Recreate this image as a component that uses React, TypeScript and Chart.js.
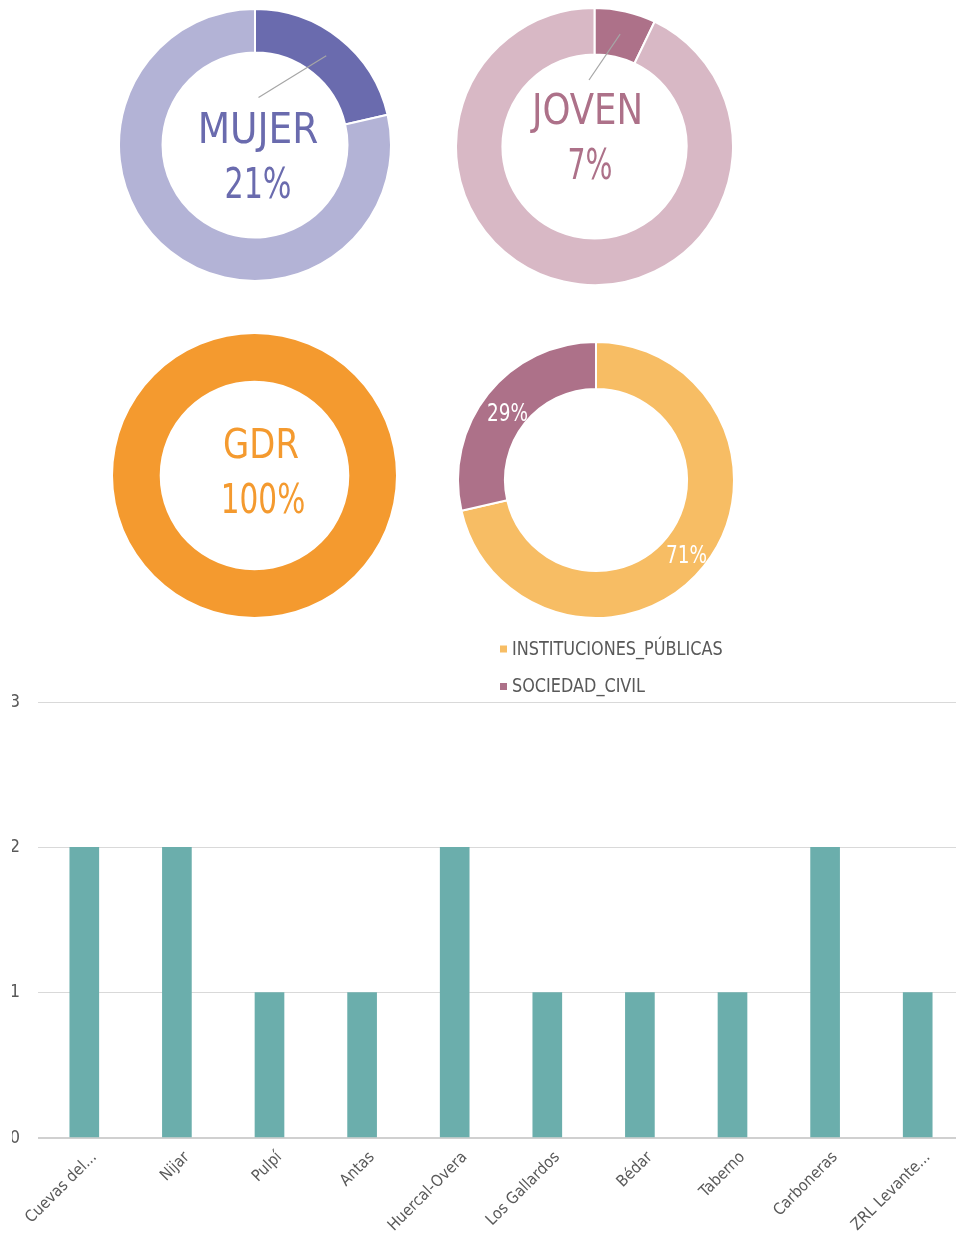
import React, { useEffect, useRef } from 'react';
import { Chart, registerables } from 'chart.js';

Chart.register(...registerables);

const FONT = "'Liberation Sans Narrow', 'Arial Narrow', 'DejaVu Sans Condensed', sans-serif";
const TEXT_GREY = '#595959';

// ---------- data ----------
const municipios = ['Cuevas del...', 'Nijar', 'Pulpí', 'Antas', 'Huercal-Overa', 'Los Gallardos', 'Bédar', 'Taberno', 'Carboneras', 'ZRL Levante...'];
const representantes = [2, 2, 1, 1, 2, 1, 1, 1, 2, 1];
const yMin = 0;
const yMax = 3;
const yStep = 1;

const mujerLabels = ['MUJER', 'HOMBRE'];
const mujerValues = [3, 11];
const jovenLabels = ['JOVEN', 'NO JOVEN'];
const jovenValues = [1, 13];
const gdrLabels = ['GDR'];
const gdrValues = [14];
const sectorLabels = ['INSTITUCIONES_PÚBLICAS', 'SOCIEDAD_CIVIL'];
const sectorValues = [10, 4];

// ---------- colours ----------
const mujerColors = ['#6A6BAE', '#B3B3D6'];
const jovenColors = ['#AD7189', '#D8B8C5'];
const gdrColors = ['#F49A2F'];
const sectorColors = ['#F7BD64', '#AD7189'];
const barColor = '#6BAEAC';

const pct = (values: number[], i: number) => {
  const total = values.reduce((a, b) => a + b, 0);
  return Math.round((values[i] / total) * 100) + '%';
};

function drawText(ctx: any, text: string, x: number, y: number, sx: number) {
  ctx.save();
  ctx.translate(x, y);
  ctx.scale(sx, 1);
  ctx.fillText(text, 0, 0);
  ctx.restore();
}

// centre label + leader line plugin
const centerTextPlugin = {
  id: 'centerText',
  afterDraw(chart: any, _args: any, opts: any) {
    if (!opts || !opts.lines) return;
    const meta = chart.getDatasetMeta(0);
    const first = meta.data[0];
    const cx = first.x;
    const cy = first.y;
    const ctx = chart.ctx;
    ctx.save();
    if (opts.leader) {
      const el = meta.data[opts.leader.index];
      const p = el.tooltipPosition();
      ctx.strokeStyle = '#A6A6A6';
      ctx.lineWidth = 1.2;
      ctx.beginPath();
      ctx.moveTo(cx + opts.leader.dx, cy + opts.leader.dy);
      ctx.lineTo(p.x, p.y);
      ctx.stroke();
    }
    ctx.fillStyle = opts.color;
    ctx.textAlign = 'center';
    ctx.textBaseline = 'middle';
    for (const l of opts.lines) {
      ctx.font = `${l.size}px ${FONT}`;
      drawText(ctx, l.text, cx + l.dx, cy + l.dy, l.sx || 1);
    }
    ctx.restore();
  },
};

// slice percentage labels plugin
const sliceLabelPlugin = {
  id: 'sliceLabels',
  afterDraw(chart: any, _args: any, opts: any) {
    if (!opts || !opts.show) return;
    const meta = chart.getDatasetMeta(0);
    const values = chart.data.datasets[0].data as number[];
    const ctx = chart.ctx;
    ctx.save();
    ctx.fillStyle = '#FFFFFF';
    ctx.textAlign = 'center';
    ctx.textBaseline = 'middle';
    ctx.font = `${opts.size}px ${FONT}`;
    meta.data.forEach((el: any, i: number) => {
      const p = el.tooltipPosition();
      const off = (opts.offsets && opts.offsets[i]) || [0, 0];
      drawText(ctx, pct(values, i), p.x + off[0], p.y + off[1], opts.sx || 1);
    });
    ctx.restore();
  },
};

// vertical legend plugin
const sideLegendPlugin = {
  id: 'sideLegend',
  afterDraw(chart: any, _args: any, opts: any) {
    if (!opts || !opts.show) return;
    const ctx = chart.ctx;
    const labels = chart.data.labels as string[];
    const colors = chart.data.datasets[0].backgroundColor as string[];
    ctx.save();
    ctx.textBaseline = 'middle';
    ctx.textAlign = 'left';
    ctx.font = `${opts.size}px ${FONT}`;
    labels.forEach((lab, i) => {
      const y = opts.y + i * opts.rowGap;
      ctx.fillStyle = colors[i];
      ctx.fillRect(opts.x, y - 3.5, 7, 7);
      ctx.fillStyle = TEXT_GREY;
      drawText(ctx, lab, opts.x + 12, y + 1, opts.sx || 1);
    });
    ctx.restore();
  },
};

type DonutProps = {
  cx: number; cy: number; r: number; extraH?: number;
  labels: string[]; values: number[]; colors: string[];
  cutout: string; border: number; plugins: any;
};

function Donut({ cx, cy, r, extraH = 0, labels, values, colors, cutout, border, plugins }: DonutProps) {
  const ref = useRef<HTMLCanvasElement>(null);
  const size = Math.round(2 * r + border + 2);
  const left = Math.round(cx - size / 2);
  const top = Math.round(cy - size / 2);
  useEffect(() => {
    const chart = new Chart(ref.current as HTMLCanvasElement, {
      type: 'doughnut',
      data: {
        labels,
        datasets: [{
          data: values,
          backgroundColor: colors,
          borderColor: '#FFFFFF',
          borderWidth: border,
          hoverOffset: 0,
        }],
      },
      options: {
        animation: false,
        responsive: false,
        cutout,
        layout: { padding: { bottom: extraH } },
        events: [],
        plugins: {
          legend: { display: false },
          tooltip: { enabled: false },
          ...plugins,
        },
      } as any,
      plugins: [centerTextPlugin, sliceLabelPlugin, sideLegendPlugin],
    });
    return () => chart.destroy();
  }, []);
  return (
    <canvas
      ref={ref}
      width={size}
      height={size + extraH}
      style={{ position: 'absolute', left, top, width: size, height: size + extraH }}
    />
  );
}

function Bars() {
  const ref = useRef<HTMLCanvasElement>(null);
  useEffect(() => {
    const chart = new Chart(ref.current as HTMLCanvasElement, {
      type: 'bar',
      data: {
        labels: municipios,
        datasets: [{
          data: representantes,
          backgroundColor: barColor,
          borderWidth: 0,
          barThickness: 29,
        }],
      },
      options: {
        animation: false,
        responsive: false,
        events: [],
        layout: { padding: { left: 12, top: 12, right: 0, bottom: 0 } },
        plugins: { legend: { display: false }, tooltip: { enabled: false } },
        scales: {
          x: {
            grid: { display: false },
            border: { display: false },
            ticks: {
              color: TEXT_GREY,
              font: { family: FONT, size: 16 },
              minRotation: 45,
              maxRotation: 45,
              autoSkip: false,
              padding: 2,
              labelOffset: 10,
            },
            afterFit: (s: any) => {
              s.height = 100;
              s.paddingLeft = 0;
              s.paddingRight = 0;
            },
          },
          y: {
            min: yMin,
            max: yMax,
            ticks: {
              stepSize: yStep,
              color: TEXT_GREY,
              font: { family: FONT, size: 18 },
              padding: 18,
            },
            grid: {
              color: (c: any) => (c.tick && c.tick.value === 0 ? '#D0D0D0' : '#D9D9D9'),
              lineWidth: (c: any) => (c.tick && c.tick.value === 0 ? 2 : 1),
              drawTicks: false,
            },
            border: { display: false },
            afterFit: (s: any) => {
              s.width = 26;
              s.paddingTop = 0;
              s.paddingBottom = 0;
            },
          },
        },
      } as any,
    });
    return () => chart.destroy();
  }, []);
  return (
    <canvas
      ref={ref}
      width={964}
      height={548}
      style={{ position: 'absolute', left: 0, top: 690, width: 964, height: 548 }}
    />
  );
}

export default function App() {
  return (
    <div style={{ position: 'fixed', left: 0, top: 0, width: 956, height: 1238, overflow: 'hidden', background: '#FFFFFF' }}>
      <Donut
        cx={254.5} cy={144.5} r={135}
        labels={mujerLabels} values={mujerValues} colors={mujerColors}
        cutout="68%" border={2}
        plugins={{
          centerText: {
            color: mujerColors[0],
            lines: [
              { text: mujerLabels[0], dx: 3, dy: -13, size: 43, sx: 0.97 },
              { text: pct(mujerValues, 0), dx: 3, dy: 42, size: 43, sx: 0.78 },
            ],
            leader: { index: 0, dx: 3.5, dy: -47.5 },
          },
        }}
      />
      <Donut
        cx={594.5} cy={146.5} r={137.5}
        labels={jovenLabels} values={jovenValues} colors={jovenColors}
        cutout="66.5%" border={2}
        plugins={{
          centerText: {
            color: jovenColors[0],
            lines: [
              { text: jovenLabels[0], dx: -7, dy: -33, size: 42, sx: 0.94 },
              { text: pct(jovenValues, 0), dx: -4.5, dy: 22, size: 42, sx: 0.75 },
            ],
            leader: { index: 0, dx: -5.5, dy: -66.5 },
          },
        }}
      />
      <Donut
        cx={254.5} cy={475} r={140.5}
        labels={gdrLabels} values={gdrValues} colors={gdrColors}
        cutout="67%" border={0}
        plugins={{
          centerText: {
            color: gdrColors[0],
            lines: [
              { text: gdrLabels[0], dx: 6.5, dy: -27.5, size: 40, sx: 0.94 },
              { text: pct(gdrValues, 0), dx: 8.5, dy: 27, size: 40, sx: 0.82 },
            ],
          },
        }}
      />
      <Donut
        cx={595.5} cy={480} r={137} extraH={82}
        labels={sectorLabels} values={sectorValues} colors={sectorColors}
        cutout="66%" border={2}
        plugins={{
          sliceLabels: { show: true, size: 25, sx: 0.82, offsets: [[1, 5], [1, 6]] },
          sideLegend: { show: true, size: 19, sx: 0.94, x: 43, y: 308, rowGap: 37.5 },
        }}
      />
      <Bars />
    </div>
  );
}
